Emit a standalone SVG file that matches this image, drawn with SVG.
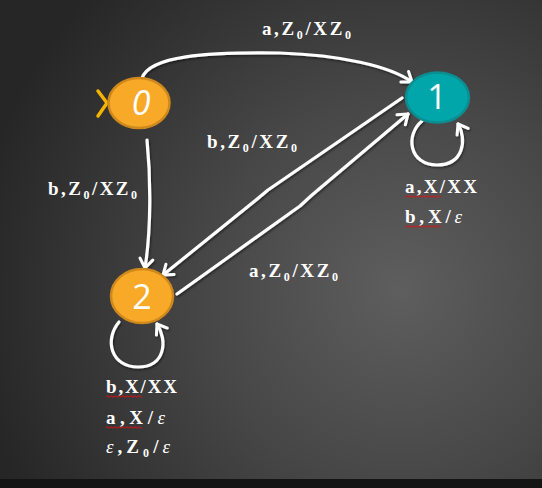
<svg xmlns="http://www.w3.org/2000/svg" width="542" height="488" viewBox="0 0 542 488">
<defs>
<radialGradient id="bg" cx="400" cy="290" r="430" gradientUnits="userSpaceOnUse">
<stop offset="0" stop-color="#5e5e5e"/>
<stop offset="0.45" stop-color="#474747"/>
<stop offset="1" stop-color="#262626"/>
</radialGradient>
<filter id="sh" x="-20%" y="-20%" width="140%" height="140%">
<feDropShadow dx="1" dy="1.5" stdDeviation="1" flood-color="#000" flood-opacity="0.5"/>
</filter>
<marker id="arr" markerUnits="userSpaceOnUse" markerWidth="20" markerHeight="20" refX="0" refY="0" viewBox="-12 -10 14 20" orient="auto" overflow="visible">
<path d="M-9,-6.5 L0,0 L-9,6.5" fill="none" stroke="#fff" stroke-width="3" stroke-linecap="round" stroke-linejoin="round"/>
</marker>
<style>
.edge{fill:none;stroke:#fff;stroke-width:3.2;stroke-linecap:round;stroke-linejoin:round;marker-end:url(#arr)}
.lbl{font-family:"Liberation Serif","Times New Roman",serif;font-weight:bold;font-size:19px;fill:#fff}
.sub{font-size:12px}
.eps{font-style:italic;font-weight:normal;font-size:19px}
.st{font-family:"Open Sans","DejaVu Sans",sans-serif;font-size:34px;fill:#fff;text-anchor:middle}
.org{fill:#f8a928;stroke:#cf881c;stroke-width:2.5}
.teal{fill:#00a6aa;stroke:#0b8d91;stroke-width:2.5}
.sq{fill:none;stroke:#e01010;stroke-width:1}
</style>
</defs>
<rect width="542" height="488" fill="url(#bg)"/>
<rect y="479" width="542" height="9" fill="#141414"/>

<g id="connectors" filter="url(#sh)">
<path class="edge" d="M142,78 C150,56 205,52 280,53 C340,55 390,66 412,82"/>
<path class="edge" d="M147,140 C151,180 151,230 145,268"/>
<path class="edge" d="M402,98 L268,190 L256,200 L163,275"/>
<path class="edge" d="M177,294 L300,206 L312,195 L408,114"/>
<path class="edge" d="M422,121 C405,135 409,165 437,165 C464,165 467,139 458,124"/>
<path class="edge" d="M119,322 C104,340 111,367 138,367 C165,367 168,341 157,324"/>
</g>

<g id="start">
<polyline points="98,91 107,103 98,116" fill="none" stroke="#f4b400" stroke-width="3.5" stroke-linecap="round" stroke-linejoin="round"/>
</g>
<g id="node0">
<ellipse class="org" cx="139" cy="103" rx="30.5" ry="25"/>
<text class="st" x="141" y="115" font-style="italic">0</text>
</g>
<g id="node1">
<ellipse class="teal" cx="437.5" cy="97.5" rx="31.5" ry="25"/>
<text class="st" x="437" y="109">1</text>
</g>
<g id="node2">
<ellipse class="org" cx="142" cy="296" rx="31" ry="27"/>
<text class="st" x="142" y="309">2</text>
</g>

<g id="labels">
<text class="lbl" x="262" y="35" textLength="89" lengthAdjust="spacing">a,Z<tspan class="sub" dy="4">0</tspan><tspan dy="-4">/XZ</tspan><tspan class="sub" dy="4">0</tspan></text>
<text class="lbl" x="207" y="148" textLength="90" lengthAdjust="spacing">b,Z<tspan class="sub" dy="4">0</tspan><tspan dy="-4">/XZ</tspan><tspan class="sub" dy="4">0</tspan></text>
<text class="lbl" x="48" y="195" textLength="89" lengthAdjust="spacing">b,Z<tspan class="sub" dy="4">0</tspan><tspan dy="-4">/XZ</tspan><tspan class="sub" dy="4">0</tspan></text>
<text class="lbl" x="249" y="277" textLength="89" lengthAdjust="spacing">a,Z<tspan class="sub" dy="4">0</tspan><tspan dy="-4">/XZ</tspan><tspan class="sub" dy="4">0</tspan></text>

<text class="lbl" x="405" y="193" textLength="72" lengthAdjust="spacing">a,X/XX</text>
<text class="lbl" x="405" y="223" textLength="57" lengthAdjust="spacing">b,X/<tspan class="eps">ε</tspan></text>

<text class="lbl" x="106" y="393" textLength="71" lengthAdjust="spacing">b,X/XX</text>
<text class="lbl" x="106" y="424" textLength="59" lengthAdjust="spacing">a,X/<tspan class="eps">ε</tspan></text>
<text class="lbl" x="106" y="453" textLength="64" lengthAdjust="spacing"><tspan class="eps">ε</tspan>,Z<tspan class="sub" dy="4">0</tspan><tspan dy="-4">/</tspan><tspan class="eps">ε</tspan></text>

<path class="sq" d="M405,196.5 q1,-1.5 2,0 t2,0 t2,0 t2,0 t2,0 t2,0 t2,0 t2,0 t2,0 t2,0 t2,0 t2,0 t2,0 t2,0 t2,0 t2,0 t2,0 t2,0"/>
<path class="sq" d="M405,226.5 q1,-1.5 2,0 t2,0 t2,0 t2,0 t2,0 t2,0 t2,0 t2,0 t2,0 t2,0 t2,0 t2,0 t2,0 t2,0 t2,0 t2,0 t2,0 t2,0"/>
<path class="sq" d="M106,396.5 q1,-1.5 2,0 t2,0 t2,0 t2,0 t2,0 t2,0 t2,0 t2,0 t2,0 t2,0 t2,0 t2,0 t2,0 t2,0 t2,0 t2,0 t2,0 t2,0"/>
<path class="sq" d="M106,427.5 q1,-1.5 2,0 t2,0 t2,0 t2,0 t2,0 t2,0 t2,0 t2,0 t2,0 t2,0 t2,0 t2,0 t2,0 t2,0 t2,0 t2,0 t2,0 t2,0"/>
</g>
</svg>
